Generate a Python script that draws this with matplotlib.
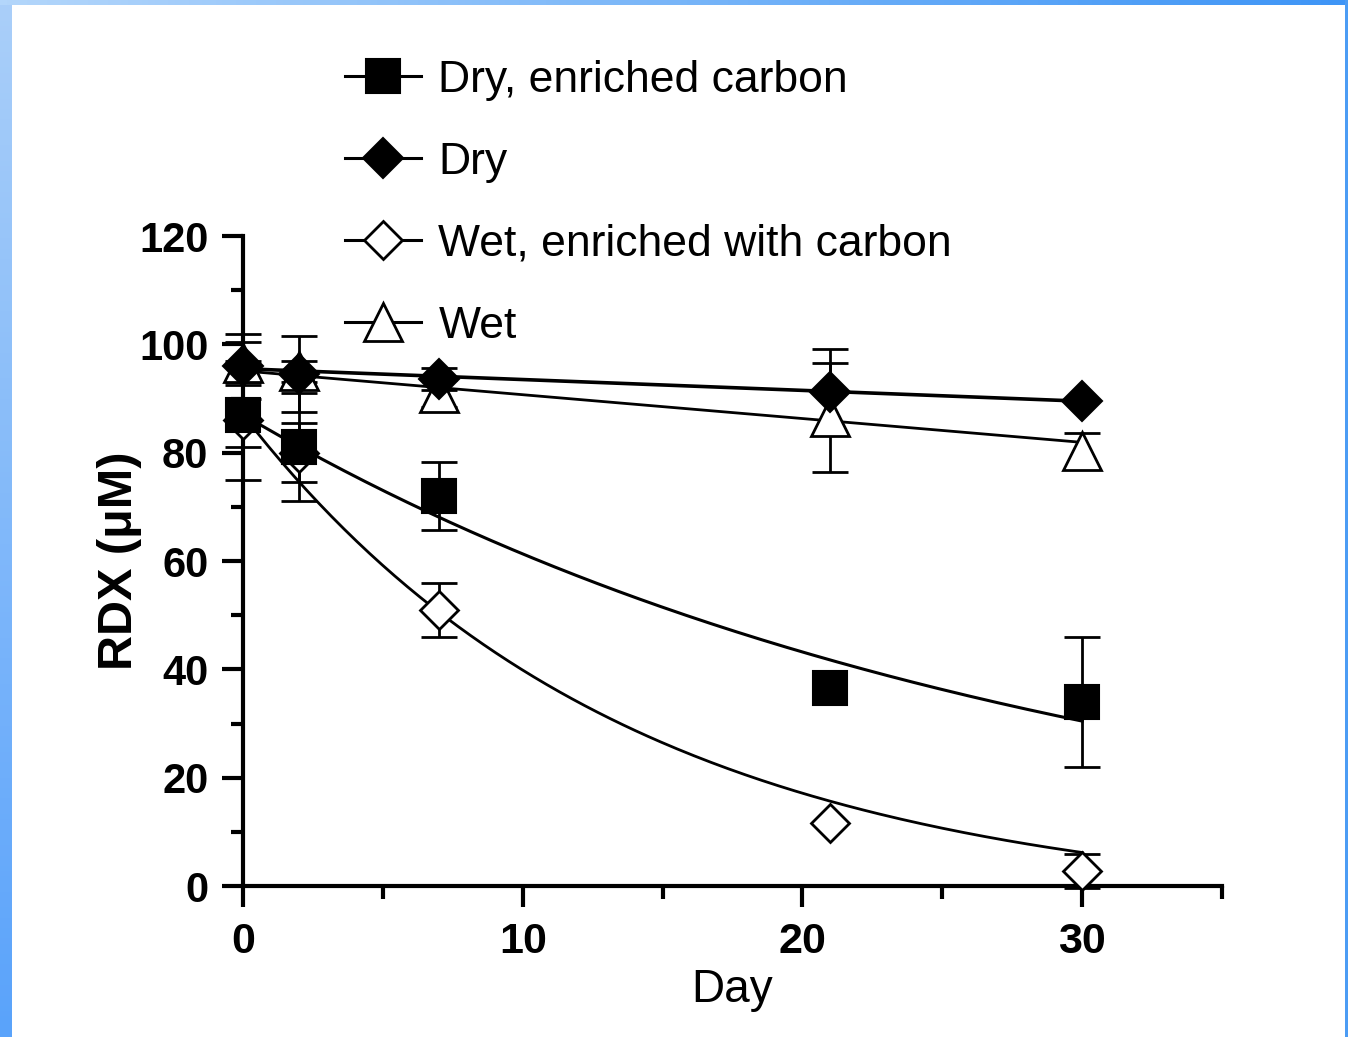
import numpy as np
import matplotlib
matplotlib.use("Agg")
import matplotlib.pyplot as plt
from matplotlib.lines import Line2D
from matplotlib.ticker import MultipleLocator
from matplotlib.colors import LinearSegmentedColormap

# sampling days and mean RDX (uM) per treatment
days = [0, 2, 7, 21, 30]
dry_carbon = [87, 81, 72, 36.5, 34]
dry_carbon_err = [6, 10, 6.3, 0, 12]
dry = [96, 94.5, 93.6, 91.2, 89.5]
dry_err = [6, 7, 2, 8, 0]
wet_carbon = [86, 80, 51, 11.6, 2.8]
wet_carbon_err = [11, 5.5, 5, 0, 3.1]
wet = [96.5, 95, 91, 86.5, 80.3]
wet_err = [4, 2, 2.5, 10, 3.3]

labels = ["Dry, enriched carbon", "Dry", "Wet, enriched with carbon", "Wet"]

# fitted curves
# one-phase decay: y = span * exp(-k t) + plateau
dry_carbon_fit = dict(span=87, k=0.035, plateau=0)
wet_carbon_fit = dict(span=91, k=0.073, plateau=-4)
# straight lines: y = intercept + slope * t
dry_fit = dict(intercept=95.5, slope=-0.2)
wet_fit = dict(intercept=95.1, slope=-0.44)

fit_days = np.linspace(0, 30, 200)

plt.rcParams["font.family"] = ["Liberation Sans", "DejaVu Sans"]

fig = plt.figure(figsize=(13.48, 10.37), dpi=100)

# blue frame round the slide
bg = fig.add_axes([0, 0, 1, 1], zorder=-10)
bg.axis("off")
bg.set_xlim(0, 1348)
bg.set_ylim(1037, 0)
cm_left = LinearSegmentedColormap.from_list("l", ["#aacff9", "#5aa3fb"])
cm_top = LinearSegmentedColormap.from_list("t", ["#b3d6fb", "#3e95f6"])
bg.imshow(np.linspace(0, 1, 200)[:, None], cmap=cm_left, extent=(0, 12, 1037, 0), aspect="auto")
bg.imshow(np.linspace(0, 1, 200)[None, :], cmap=cm_top, extent=(0, 1348, 5, 0), aspect="auto")
bg.add_patch(plt.Rectangle((1345, 0), 3, 1037, color="#4c9cf4", lw=0))

ax = fig.add_axes([243 / 1348, 1 - 886 / 1037, (1222 - 243) / 1348, 650 / 1037])

def decay(p):
    return p["span"] * np.exp(-p["k"] * fit_days) + p["plateau"]

def linear(p):
    return p["intercept"] + p["slope"] * fit_days

ax.plot(fit_days, decay(dry_carbon_fit), color="black", lw=2.2, zorder=2)
ax.plot(fit_days, decay(wet_carbon_fit), color="black", lw=2.0, zorder=2)
ax.plot(fit_days, linear(dry_fit), color="black", lw=2.6, zorder=2)
ax.plot(fit_days, linear(wet_fit), color="black", lw=2.0, zorder=2)

series = [
    (dry_carbon, dry_carbon_err, dict(marker="s", ms=24, mfc="black", mec="black", mew=1.5)),
    (dry, dry_err, dict(marker="D", ms=20, mfc="black", mec="black", mew=1.5)),
    (wet_carbon, wet_carbon_err, dict(marker="D", ms=19, mfc="white", mec="black", mew=2)),
    (wet, wet_err, dict(marker="^", ms=27, mfc="white", mec="black", mew=2)),
]

for vals, errs, style in series:
    d = np.array(days, dtype=float)
    v = np.array(vals, dtype=float)
    e = np.array(errs, dtype=float)
    has = e > 0
    ax.errorbar(d[has], v[has], yerr=e[has], fmt="none", ecolor="black",
                elinewidth=2, capsize=13, capthick=2, zorder=3, clip_on=False)

# open symbols first so the filled ones sit on top, as in the original
for vals, errs, style in series[::-1]:
    ax.plot(days, vals, ls="none", zorder=4, clip_on=False, **style)

ax.set_xlim(0, 35)
ax.set_ylim(0, 120)
ax.xaxis.set_major_locator(MultipleLocator(10))
ax.xaxis.set_minor_locator(MultipleLocator(5))
ax.yaxis.set_major_locator(MultipleLocator(20))
ax.yaxis.set_minor_locator(MultipleLocator(10))

for s in ["top", "right"]:
    ax.spines[s].set_visible(False)
for s in ["left", "bottom"]:
    ax.spines[s].set_linewidth(3)

ax.tick_params(which="major", length=15, width=3, direction="out")
ax.tick_params(which="minor", length=9, width=3, direction="out")
ax.tick_params(axis="y", which="major", pad=10)
ax.tick_params(axis="x", which="major", pad=11)

for t in ax.get_yticklabels():
    t.set_fontsize(30)
    t.set_fontweight("bold")
for t in ax.get_xticklabels():
    t.set_fontsize(31)
    t.set_fontweight("bold")

ax.set_xlabel("Day", fontsize=33, labelpad=4)
ax.set_ylabel("RDX (\u03bcM)", fontsize=35, fontweight="bold", labelpad=-2)

handles = [Line2D([0], [0], color="black", lw=2.2, **st) for _, _, st in series]
fig.legend(handles, labels, loc="upper left", bbox_to_anchor=(345 / 1348, 1 - 60 / 1037),
           frameon=False, fontsize=32, handlelength=1.7, handletextpad=0.4,
           labelspacing=0.92, borderpad=0, borderaxespad=0)

fig.savefig("out.png", dpi=100, facecolor="white")
